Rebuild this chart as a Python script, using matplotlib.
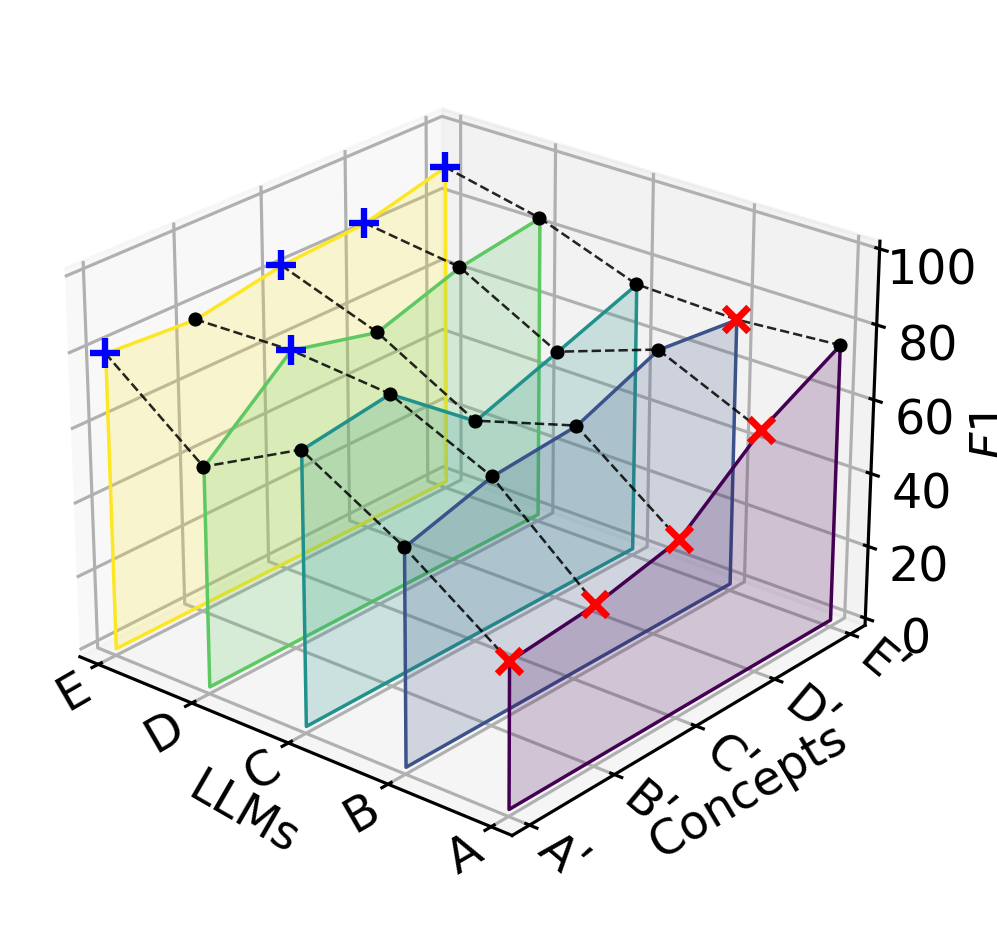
import matplotlib
matplotlib.use('Agg')
import matplotlib.pyplot as plt
import numpy as np
from mpl_toolkits.mplot3d.art3d import Poly3DCollection

plt.rcParams['grid.linewidth'] = 1.0
plt.rcParams['axes.linewidth'] = 1.0
plt.rcParams['xtick.major.width'] = 1.0
plt.rcParams['ytick.major.width'] = 1.0

llms = ['E', 'D', 'C', 'B', 'A']
concepts = ["A\u02b9", "B\u02b9", "C\u02b9", "D\u02b9", "E\u02b9"]

f1_e = [79.7, 78.1, 82.3, 83.8, 89.5]
f1_d = [59.1, 78.8, 73.0, 80.2, 83.6]
f1_c = [73.0, 76.4, 58.3, 66.0, 73.9]
f1_b = [57.7, 64.3, 66.3, 75.5, 73.0]
f1_a = [38.7, 41.0, 46.0, 63.4, 75.0]
f1 = np.array([f1_e, f1_d, f1_c, f1_b, f1_a])

colors = ['#fde725', '#5ec962', '#21918c', '#3b528b', '#440154']

fig = plt.figure(figsize=(997 / 228, 926 / 228), dpi=228)
ax = fig.add_axes([0.022, 0.023, 0.885, 0.953], projection='3d')
ax.computed_zorder = False
ax.view_init(elev=25, azim=-50)

xs = np.arange(len(llms))
ys = np.arange(len(concepts))

# one filled profile per LLM
for i in xs:
    verts = [(i, 0, 0)] + [(i, j, f1[i, j]) for j in ys] + [(i, ys[-1], 0)]
    poly = Poly3DCollection([verts], facecolor=matplotlib.colors.to_rgba(colors[i], 0.2),
                            edgecolor=colors[i], linewidth=1.1, zorder=1 + i)
    ax.add_collection3d(poly)

# dashed lines across LLMs, one per concept
for j in ys:
    ax.plot(xs, [j] * len(xs), f1[:, j], 'k--', linewidth=0.8, alpha=0.85, zorder=10)

# best in blue, worst in red, the rest black
for j in ys:
    best = np.argmax(f1[:, j])
    worst = np.argmin(f1[:, j])
    for i in xs:
        if i == best:
            ax.scatter(i, j, f1[i, j], marker='+', color='blue', s=90, linewidths=2, zorder=12, depthshade=False)
        elif i == worst:
            ax.scatter(i, j, f1[i, j], marker='x', color='red', s=60, linewidths=2.2, zorder=12, depthshade=False)
        else:
            ax.scatter(i, j, f1[i, j], marker='o', color='black', s=12, zorder=11, depthshade=False)

ax.set_xlim(-0.2, 4.2)
ax.set_ylim(-0.2, 4.2)
ax.set_zlim(-2, 102)
ax.set_xticks(xs)
ax.set_yticks(ys)
ax.set_zticks([0, 20, 40, 60, 80, 100])
ax.set_xticklabels(llms, fontsize=15, rotation=30, ha='right')
ax.set_yticklabels(concepts, fontsize=15, rotation=-40, ha='left')
ax.tick_params(axis='x', pad=-8)
ax.tick_params(axis='y', pad=-8)
ax.tick_params(axis='z', labelsize=15, pad=1.4)
ax.set_xlabel('LLMs', fontsize=15, rotation=-30, labelpad=-4)
ax.set_ylabel('Concepts', fontsize=15, rotation=30, labelpad=-4)
ax.zaxis.set_rotate_label(False)
ax.set_zlabel('$F1$', fontsize=15, rotation=90, labelpad=1)

fig.savefig('out.png', dpi=228)
